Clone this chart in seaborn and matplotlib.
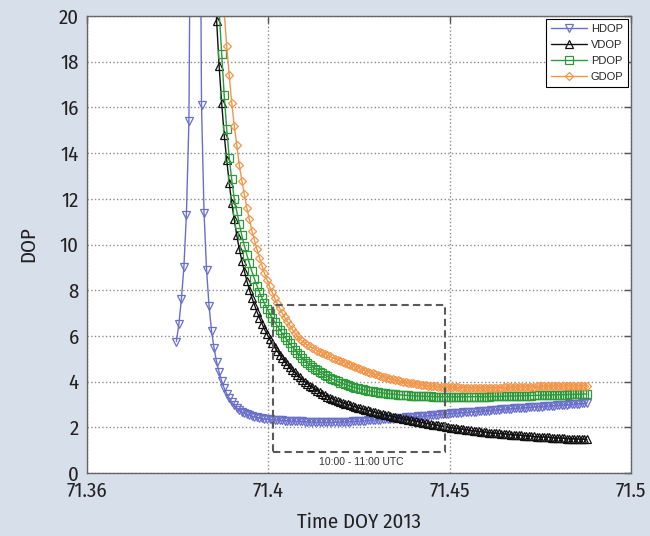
import numpy as np
import matplotlib
matplotlib.use("Agg")
import matplotlib.pyplot as plt
import seaborn as sns
from matplotlib.patches import Rectangle

# epochs: one-minute steps starting at DOY 71.3746 (2013)
T0 = 71.3746
DT = 1.0 / 1440.0

HDOP_START = 0
HDOP = [5.75, 6.5, 7.6, 9.0, 11.3, 15.4, 32.0, 90.0, 90.0, 35.0,
        16.1, 11.4, 8.9, 7.3, 6.2, 5.45, 4.85, 4.4, 4.02, 3.72,
        3.47, 3.27, 3.1, 2.96, 2.85, 2.76, 2.68, 2.62, 2.57, 2.53,
        2.49, 2.46, 2.43, 2.41, 2.39, 2.37, 2.36, 2.35, 2.34, 2.33,
        2.32, 2.31, 2.30, 2.295, 2.29, 2.28, 2.275, 2.27, 2.265, 2.26,
        2.255, 2.25, 2.245, 2.24, 2.235, 2.23, 2.23, 2.225, 2.225, 2.22,
        2.22, 2.22, 2.22, 2.225, 2.225, 2.23, 2.235, 2.24, 2.245, 2.25,
        2.255, 2.26, 2.27, 2.275, 2.28, 2.29, 2.30, 2.305, 2.315, 2.32,
        2.33, 2.34, 2.35, 2.36, 2.365, 2.375, 2.385, 2.395, 2.40, 2.41,
        2.42, 2.43, 2.44, 2.45, 2.46, 2.465, 2.475, 2.485, 2.49, 2.50,
        2.51, 2.52, 2.53, 2.54, 2.555, 2.565, 2.575, 2.59, 2.60, 2.61,
        2.615, 2.625, 2.635, 2.64, 2.65, 2.66, 2.665, 2.675, 2.685, 2.69,
        2.70, 2.71, 2.72, 2.73, 2.735, 2.745, 2.755, 2.765, 2.77, 2.78,
        2.79, 2.80, 2.81, 2.815, 2.825, 2.83, 2.84, 2.85, 2.855, 2.865,
        2.87, 2.88, 2.89, 2.895, 2.905, 2.91, 2.92, 2.93, 2.935, 2.945,
        2.95, 2.96, 2.97, 2.975, 2.985, 2.995, 3.00, 3.01, 3.02, 3.03,
        3.035, 3.045, 3.05, 3.06]

VDOP_START = 15
VDOP = [22.3, 19.8, 17.8, 16.2, 14.8,
        13.7, 12.7, 11.8, 11.1, 10.4, 9.8, 9.3, 8.84, 8.41, 8.03,
        7.68, 7.36, 7.06, 6.79, 6.54, 6.29, 6.08, 5.87, 5.68, 5.51,
        5.35, 5.18, 5.03, 4.89, 4.76, 4.63, 4.51, 4.40, 4.29, 4.19,
        4.09, 4.00, 3.91, 3.83, 3.75, 3.67, 3.60, 3.53, 3.46, 3.40,
        3.34, 3.29, 3.245, 3.20, 3.16, 3.12, 3.08, 3.04, 3.00, 2.965,
        2.93, 2.895, 2.86, 2.83, 2.80, 2.77, 2.74, 2.71, 2.68, 2.655,
        2.63, 2.60, 2.575, 2.55, 2.52, 2.495, 2.47, 2.445, 2.42, 2.40,
        2.375, 2.355, 2.33, 2.31, 2.29, 2.265, 2.245, 2.225, 2.20, 2.18,
        2.16, 2.14, 2.12, 2.10, 2.08, 2.06, 2.04, 2.02, 2.00, 1.985,
        1.97, 1.955, 1.94, 1.925, 1.91, 1.895, 1.88, 1.865, 1.85, 1.835,
        1.82, 1.81, 1.795, 1.785, 1.77, 1.76, 1.75, 1.74, 1.73, 1.72,
        1.71, 1.70, 1.69, 1.68, 1.675, 1.665, 1.655, 1.645, 1.635, 1.625,
        1.62, 1.61, 1.60, 1.595, 1.585, 1.58, 1.575, 1.565, 1.56, 1.55,
        1.545, 1.54, 1.53, 1.525, 1.52, 1.51, 1.505, 1.50, 1.495, 1.49,
        1.485, 1.48, 1.475, 1.47]

PDOP_START = 16
PDOP = [22.5, 20.2, 18.35, 16.55,
        15.05, 13.8, 12.85, 12.0, 11.45, 10.9, 10.4, 9.95, 9.55, 9.17,
        8.82, 8.5, 8.2, 7.92, 7.66, 7.42, 7.2, 6.99, 6.8, 6.62,
        6.45, 6.28, 6.12, 5.96, 5.81, 5.67, 5.53, 5.40, 5.27, 5.15,
        5.03, 4.92, 4.82, 4.73, 4.65, 4.57, 4.50, 4.43, 4.36, 4.29,
        4.23, 4.17, 4.11, 4.06, 4.01, 3.96, 3.92, 3.88, 3.84, 3.80,
        3.77, 3.74, 3.71, 3.68, 3.66, 3.63, 3.61, 3.59, 3.57, 3.55,
        3.53, 3.52, 3.50, 3.49, 3.47, 3.46, 3.45, 3.44, 3.43, 3.42,
        3.41, 3.40, 3.395, 3.39, 3.38, 3.375, 3.37, 3.365, 3.36, 3.355,
        3.35, 3.35, 3.345, 3.34, 3.34, 3.34, 3.34, 3.34, 3.335, 3.335,
        3.335, 3.335, 3.335, 3.335, 3.335, 3.335, 3.34, 3.34, 3.34, 3.34,
        3.34, 3.34, 3.34, 3.34, 3.34, 3.35, 3.35, 3.35, 3.35, 3.36,
        3.36, 3.36, 3.37, 3.37, 3.37, 3.37, 3.38, 3.38, 3.38, 3.39,
        3.39, 3.39, 3.40, 3.40, 3.40, 3.40, 3.41, 3.41, 3.41, 3.42,
        3.42, 3.42, 3.43, 3.43, 3.43, 3.43, 3.44, 3.44, 3.44, 3.45,
        3.45, 3.45, 3.46, 3.46]

GDOP_START = 18
GDOP = [22.0, 20.2,
        18.7, 17.4, 16.2, 15.2, 14.35, 13.5, 12.8, 12.2, 11.6, 11.1,
        10.6, 10.2, 9.8, 9.42, 9.08, 8.74, 8.45, 8.17, 7.91, 7.66,
        7.43, 7.22, 7.01, 6.82, 6.64, 6.46, 6.29, 6.14, 5.99, 5.87,
        5.77, 5.68, 5.61, 5.54, 5.48, 5.42, 5.36, 5.31, 5.25, 5.20,
        5.15, 5.10, 5.05, 5.00, 4.95, 4.91, 4.86, 4.82, 4.77, 4.72,
        4.68, 4.63, 4.59, 4.55, 4.51, 4.47, 4.43, 4.39, 4.36, 4.32,
        4.29, 4.25, 4.22, 4.19, 4.16, 4.13, 4.10, 4.07, 4.05, 4.02,
        4.00, 3.98, 3.96, 3.94, 3.92, 3.90, 3.88, 3.865, 3.85, 3.835,
        3.82, 3.81, 3.80, 3.79, 3.78, 3.775, 3.77, 3.765, 3.76, 3.755,
        3.75, 3.75, 3.745, 3.74, 3.74, 3.735, 3.73, 3.73, 3.73, 3.73,
        3.73, 3.73, 3.73, 3.73, 3.73, 3.73, 3.73, 3.735, 3.74, 3.74,
        3.745, 3.75, 3.75, 3.755, 3.76, 3.76, 3.765, 3.77, 3.77, 3.775,
        3.78, 3.78, 3.785, 3.79, 3.79, 3.795, 3.80, 3.80, 3.80, 3.805,
        3.805, 3.81, 3.81, 3.81, 3.81, 3.815, 3.815, 3.815, 3.815, 3.82,
        3.82, 3.82, 3.82, 3.82]

# 10:00 - 11:00 UTC window drawn as a dashed box
BOX_T = [71.4012, 71.4488]
BOX_DOP = [0.92, 7.35]
BOX_TEXT = "10:00 - 11:00 UTC"

X_TICKS = [71.35, 71.40, 71.45, 71.50]
X_TICK_LABELS = ["71.36", "71.4", "71.45", "71.5"]
Y_TICKS = list(range(0, 21, 2))

SERIES = [
    ("HDOP", HDOP_START, HDOP, "#6a6fca", "v"),
    ("VDOP", VDOP_START, VDOP, "#111111", "^"),
    ("PDOP", PDOP_START, PDOP, "#2f9a3c", "s"),
    ("GDOP", GDOP_START, GDOP, "#f2964a", "D"),
]

NARROW = ["Fira Sans Condensed", "Roboto Condensed", "PT Sans Narrow",
          "Archivo Narrow", "DejaVu Sans"]
SMALL = ["Liberation Sans", "DejaVu Sans"]

sns.set_theme(style="white")
plt.rcParams["font.family"] = NARROW
plt.rcParams["font.weight"] = "normal"

fig = plt.figure(figsize=(6.5, 5.36), dpi=100, facecolor="#d7dfeb")
ax = fig.add_axes([0.134, 0.1175, 0.837, 0.8526])
ax.set_facecolor("white")

for name, start, vals, color, marker in SERIES:
    t = T0 + DT * (start + np.arange(len(vals)))
    ms = 4.3 if marker == "D" else 5.3
    sns.lineplot(x=t, y=vals, ax=ax, color=color, marker=marker,
                 markersize=ms, mfc="none", mec=color, mew=0.9, lw=1.0,
                 label=name, sort=False, estimator=None)

ax.add_patch(Rectangle((BOX_T[0], BOX_DOP[0]), BOX_T[1] - BOX_T[0],
                       BOX_DOP[1] - BOX_DOP[0], fill=False, ec="#5a5a5a",
                       lw=1.5, ls=(0, (3.5, 2)), zorder=5))
ax.text(sum(BOX_T) / 2 + 0.0005, 0.47, BOX_TEXT, ha="center", va="center",
        fontsize=7.5, family=SMALL, color="#333333")

ax.set_xlim(X_TICKS[0], X_TICKS[-1])
ax.set_ylim(0, 20)
ax.set_xticks(X_TICKS)
ax.set_xticklabels(X_TICK_LABELS)
ax.set_yticks(Y_TICKS)
ax.grid(True, ls=":", color="#8c8c8c", lw=1.0)
ax.tick_params(direction="in", length=5, width=1, top=True, right=True,
               color="#555555", labelcolor="#222222", labelsize=15)
ax.tick_params(axis="x", pad=6)
ax.tick_params(axis="y", pad=6)
for sp in ax.spines.values():
    sp.set_color("#666666")
    sp.set_linewidth(1.0)

ax.set_xlabel("Time DOY 2013", fontsize=15, fontweight="normal",
              color="#222222", labelpad=8)
ax.set_ylabel("DOP", fontsize=15, fontweight="normal",
              color="#222222", labelpad=15)

leg = ax.legend(loc="upper right", frameon=True, fancybox=False,
                edgecolor="black", framealpha=1, borderaxespad=0.3,
                handlelength=3.3, handletextpad=0.3, labelspacing=0.55,
                borderpad=0.4, prop={"family": SMALL, "size": 8})
leg.get_frame().set_linewidth(0.8)

fig.savefig("out.png", dpi=100, facecolor=fig.get_facecolor())
